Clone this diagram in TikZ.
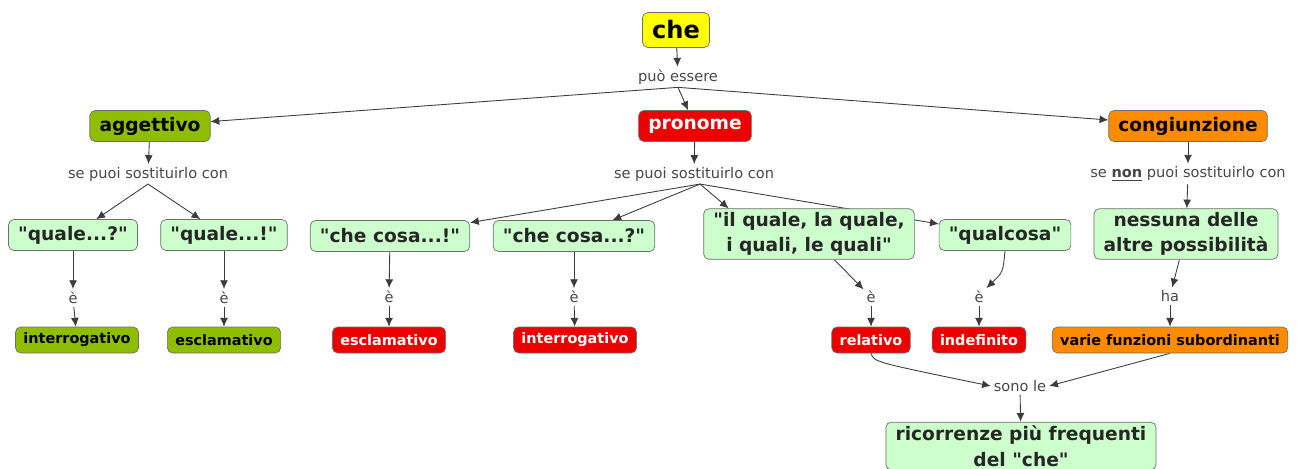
\documentclass[tikz,border=0pt]{standalone}
\usepackage{fontspec}
\setmainfont{DejaVu Sans}
\usetikzlibrary{arrows.meta,calc,backgrounds}
\definecolor{cmYellow}{RGB}{255,255,0}
\definecolor{cmGreen}{RGB}{143,190,0}
\definecolor{cmRed}{RGB}{236,0,0}
\definecolor{cmOrange}{RGB}{255,140,0}
\definecolor{cmPale}{RGB}{204,255,204}
\definecolor{cmBorder}{RGB}{110,110,110}
\definecolor{cmLine}{RGB}{60,60,60}
\definecolor{cmLink}{RGB}{70,70,70}
\newcommand\dq{\XeTeXglyph\XeTeXcharglyph"22\relax}

\begin{document}
\begin{tikzpicture}[x=0.02cm,y=-0.02cm,
    concept/.style={draw=cmBorder,rounded corners=3pt,align=center,
      font=\bfseries\fontsize{10.6}{14.5}\selectfont,inner xsep=5.5pt,inner ysep=2pt,minimum height=0.62cm},
    pale/.style={concept,fill=cmPale,text=black!85},
    tag/.style={draw=cmBorder,rounded corners=3pt,font=\bfseries\fontsize{8.2}{10}\selectfont,
      inner xsep=4.5pt,inner ysep=1pt,minimum height=0.52cm},
    link/.style={text=cmLink,font=\fontsize{8.3}{10}\selectfont,inner sep=1.5pt},
    conn/.style={draw=cmLine,line width=0.5pt,->,>={Latex[length=5pt,width=4.5pt]}}]
  \useasboundingbox (0,0) rectangle (1298,468);

  % top levels
  \node[concept,fill=cmYellow,font=\bfseries\fontsize{13.7}{16}\selectfont,minimum height=0.7cm] (che) at (676,30) {che};
  \node[link] (pe) at (678,77) {può essere};
  \node[concept,fill=cmGreen] (agg) at (150,126) {aggettivo};
  \node[concept,fill=cmRed,text=white] (pro) at (695,126) {pronome};
  \node[concept,fill=cmOrange] (cong) at (1188,126) {congiunzione};

  \node[link] (spL) at (148,174) {se puoi sostituirlo con};
  \node[link] (spM) at (694,174) {se puoi sostituirlo con};
  \node[link] (spR) at (1188,174) {se \underline{\textbf{non}} puoi sostituirlo con};

  % substitutions
  \node[pale] (qd) at (73,235) {\dq quale...?\dq};
  \node[pale] (qe) at (224,235) {\dq quale...!\dq};
  \node[pale] (cce) at (390,236) {\dq che cosa...!\dq};
  \node[pale] (ccd) at (574,236) {\dq che cosa...?\dq};
  \node[pale] (ilq) at (809,234) {\dq il quale, la quale,\\i quali, le quali\dq};
  \node[pale] (qc) at (1005,235) {\dq qualcosa\dq};
  \node[pale] (ness) at (1186,234) {nessuna delle\\altre possibilità};

  \node[link] (e1) at (73,298) {è};
  \node[link] (e2) at (224,298) {è};
  \node[link] (e3) at (389,297) {è};
  \node[link] (e4) at (574,297) {è};
  \node[link] (e5) at (871,297) {è};
  \node[link] (e6) at (979,297) {è};
  \node[link] (ha) at (1170,296) {ha};

  % functions
  \node[tag,fill=cmGreen] (intA) at (77,340) {interrogativo};
  \node[tag,fill=cmGreen] (escA) at (224,340) {esclamativo};
  \node[tag,fill=cmRed,text=white] (escP) at (389,340) {esclamativo};
  \node[tag,fill=cmRed,text=white] (intP) at (575,340) {interrogativo};
  \node[tag,fill=cmRed,text=white] (rel) at (871,340) {relativo};
  \node[tag,fill=cmRed,text=white] (ind) at (979,340) {indefinito};
  \node[tag,fill=cmOrange] (var) at (1170,340) {varie funzioni subordinanti};

  \node[link] (sono) at (1020,386) {sono le};
  \node[pale] (ric) at (1021,446) {ricorrenze più frequenti\\del \dq che\dq};

  \begin{scope}[on background layer]
    \draw[conn] (che) -- (pe);
    \draw[conn] (pe.south) -- (agg);
    \draw[conn] (pe.south) -- (pro);
    \draw[conn] (pe.south) -- (cong);
    \draw[conn] (agg) -- (spL);
    \draw[conn] (pro) -- (spM);
    \draw[conn] (cong) -- (spR);
    \draw[conn] (spL.south) -- (qd);
    \draw[conn] (spL.south) -- (qe);
    \draw[conn] ($(spM.south)+(6,0)$) coordinate (fork) -- (cce);
    \draw[conn] (fork) -- (ccd);
    \draw[conn] (fork) -- ($(ilq.north west)!0.12!(ilq.north east)$);
    \draw[conn] (fork) -- (qc);
    \draw[conn] (spR) -- (ness);
    \draw[conn] (qd) -- (e1);
    \draw[conn] (e1) -- (intA);
    \draw[conn] (qe) -- (e2);
    \draw[conn] (e2) -- (escA);
    \draw[conn] (cce) -- (e3);
    \draw[conn] (e3) -- (escP);
    \draw[conn] (ccd) -- (e4);
    \draw[conn] (e4) -- (intP);
    \draw[conn] (ilq) -- (e5);
    \draw[conn] (e5) -- (rel);
    \draw[conn] (qc.south) .. controls (1003,272) .. (e6.north east);
    \draw[conn] (e6) -- (ind);
    \draw[conn] (ness) -- (ha);
    \draw[conn] (ha) -- (var);
    \draw[conn] (rel.south) .. controls (874,362) .. (sono.west);
    \draw[conn] (var.south) -- (sono.east);
    \draw[conn] (sono) -- (ric);
  \end{scope}
\end{tikzpicture}
\end{document}
